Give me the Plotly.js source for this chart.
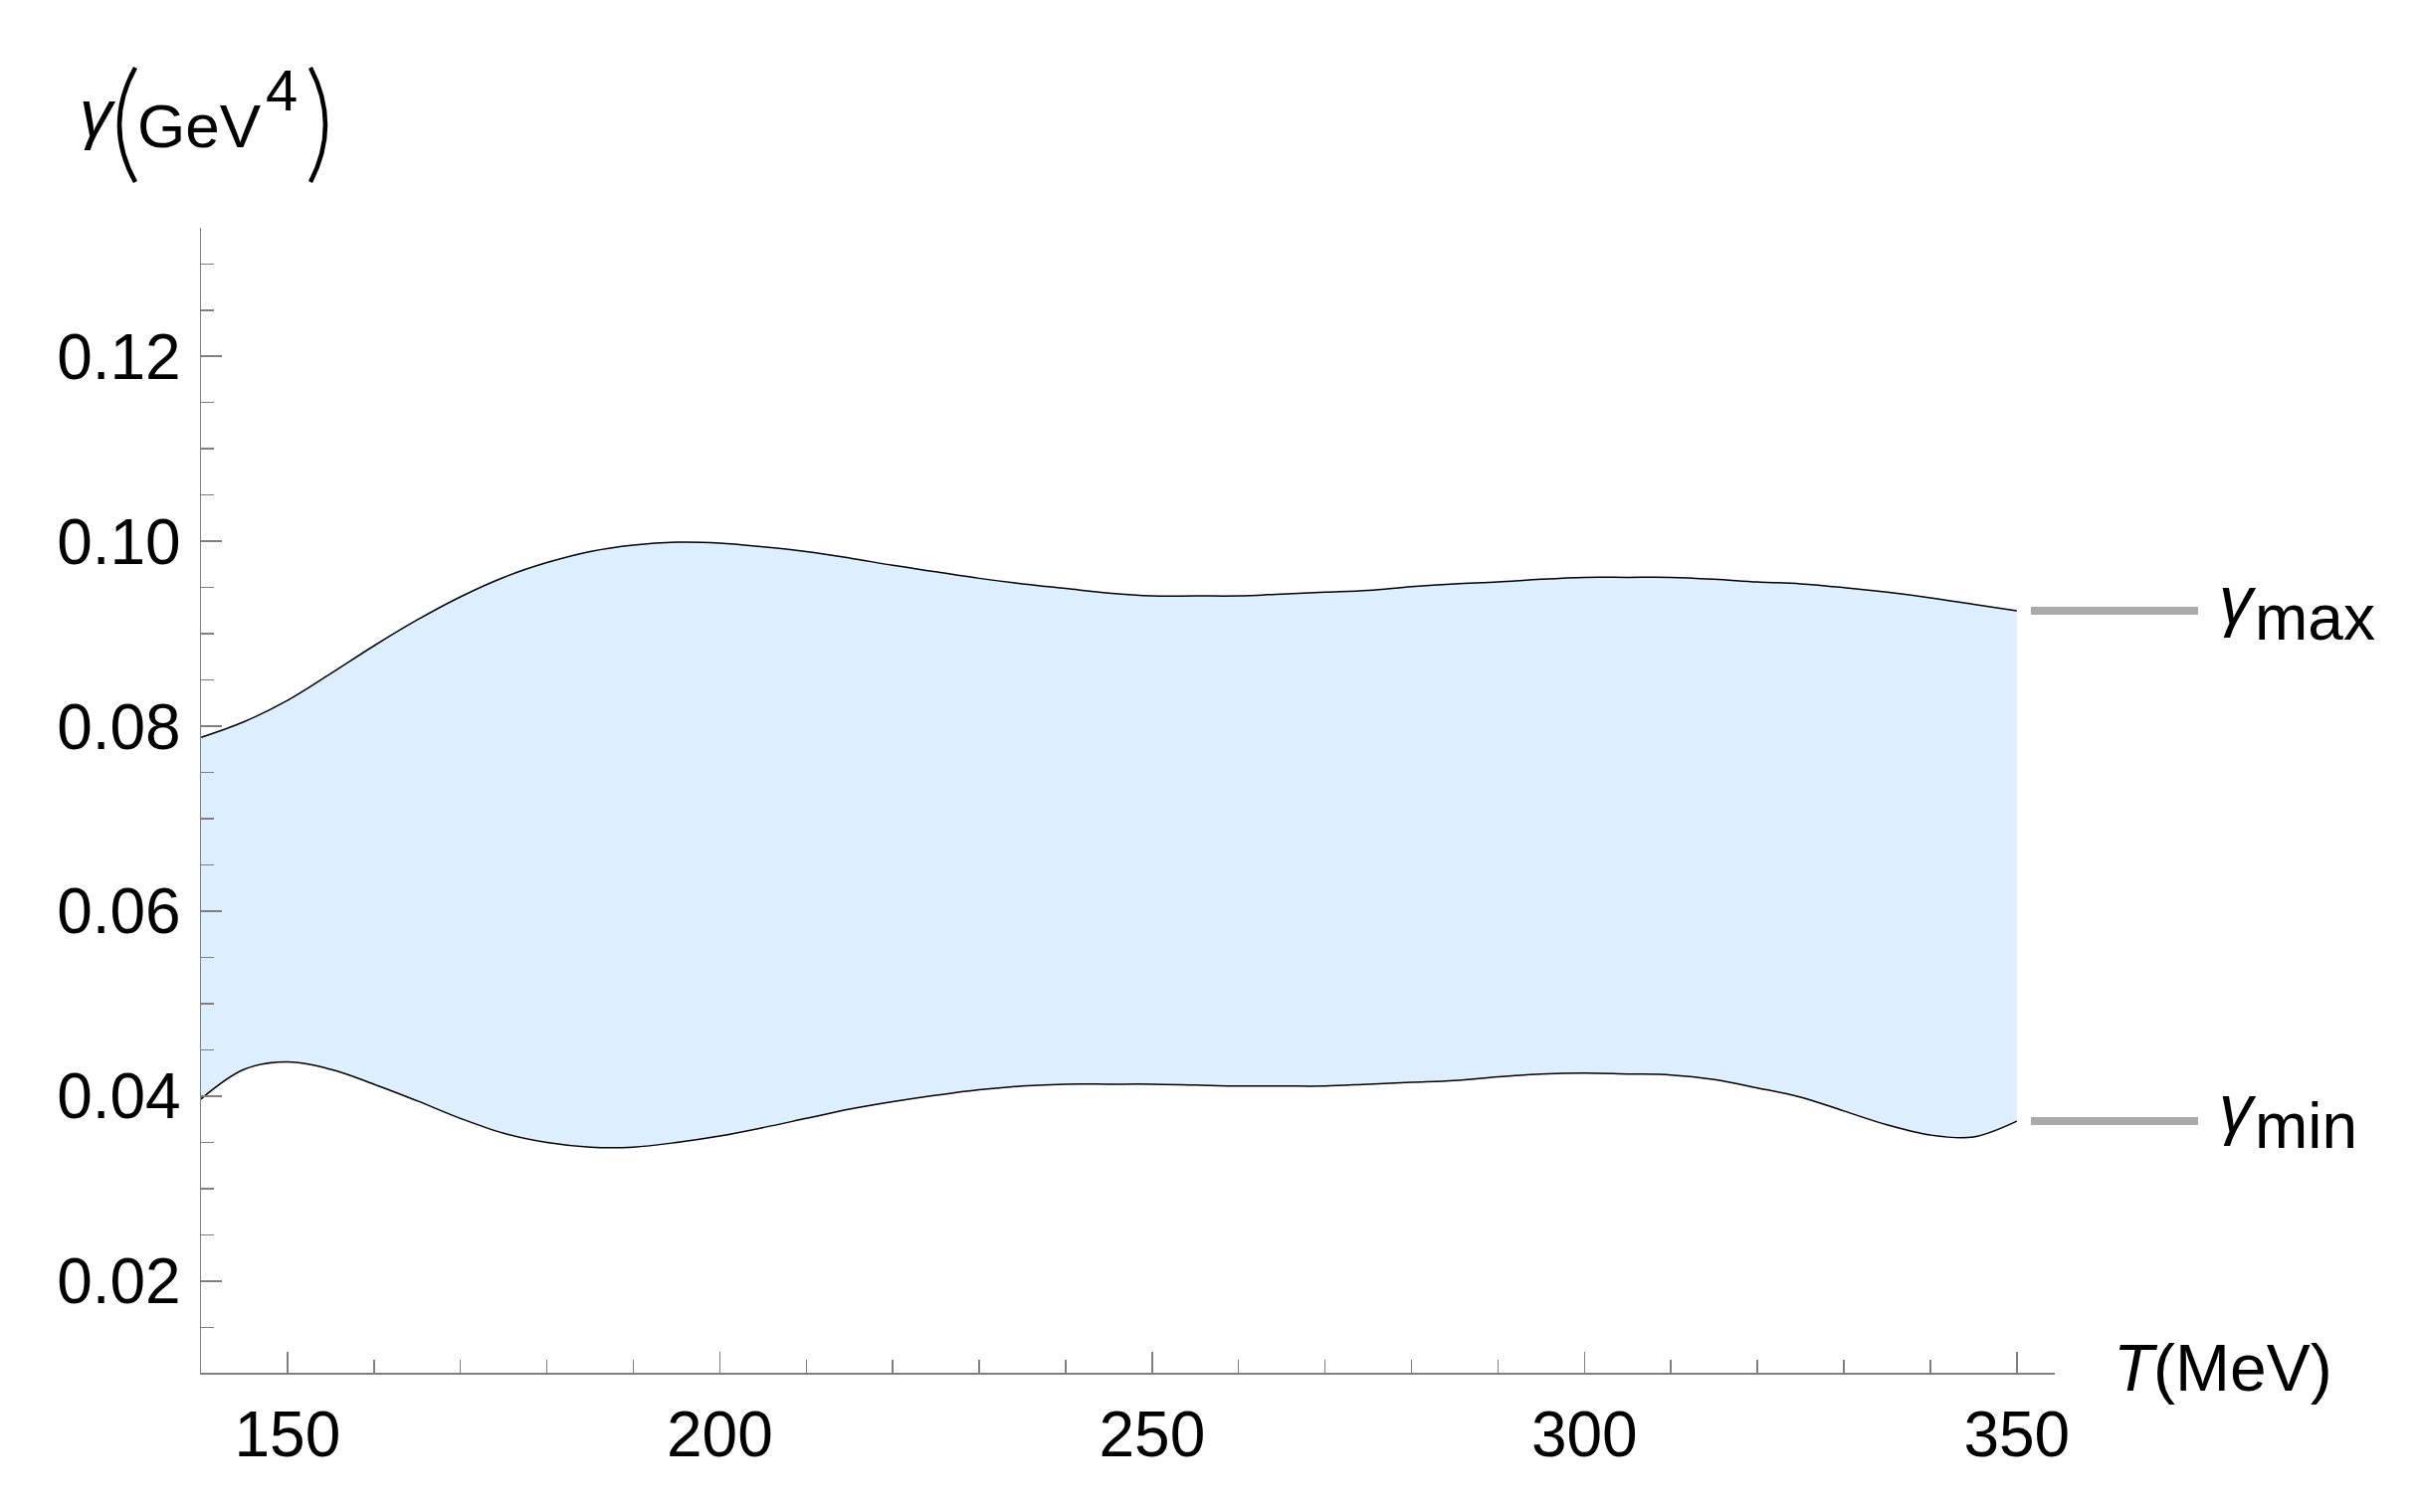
<!DOCTYPE html>
<html>
<head>
<meta charset="utf-8">
<script src="https://cdn.plot.ly/plotly-3.0.1.min.js"></script>
<style>
  html, body { margin: 0; padding: 0; background: #fff; }
  #chart { width: 2431px; height: 1520px; }
</style>
</head>
<body>
<div id="chart"></div>
<script>
// ------------------------------
// values
// ------------------------------
var temperature = [140, 145, 150, 155, 160, 165, 170, 175, 180, 185, 190, 195, 200,
  205, 210, 215, 220, 225, 230, 235, 240, 245, 250, 255, 260, 265, 270, 275, 280,
  285, 290, 295, 300, 305, 310, 315, 320, 325, 330, 335, 340, 345, 350];

var gammaMin = [0.0397, 0.0429, 0.0437, 0.0429, 0.0413, 0.0395, 0.0376, 0.0360, 0.0350,
  0.0345, 0.0345, 0.0350, 0.0357, 0.0366, 0.0376, 0.0386, 0.0394, 0.0401, 0.0407,
  0.0411, 0.0413, 0.0413, 0.0413, 0.0412, 0.0411, 0.0411, 0.0411, 0.0413, 0.0415,
  0.0417, 0.0421, 0.0424, 0.0425, 0.0424, 0.0423, 0.0418, 0.0409, 0.0399, 0.0384,
  0.0369, 0.0358, 0.0356, 0.0373];

var gammaMax = [0.0788, 0.0805, 0.0828, 0.0857, 0.0887, 0.0915, 0.0940, 0.0961, 0.0977,
  0.0989, 0.0996, 0.0999, 0.0998, 0.0994, 0.0989, 0.0982, 0.0974, 0.0967, 0.0960,
  0.0954, 0.0949, 0.0944, 0.0941, 0.0941, 0.0941, 0.0943, 0.0945, 0.0947, 0.0951,
  0.0954, 0.0956, 0.0959, 0.0961, 0.0961, 0.0961, 0.0959, 0.0956, 0.0954, 0.0950,
  0.0945, 0.0939, 0.0932, 0.0925];

var seriesNames = ['min', 'max'];

// ------------------------------
// page geometry (pixels)
// ------------------------------
var W = 2431, H = 1520;
var plotL = 202, plotR = 2065, plotT = 229, plotB = 1380;
var FONT = 'Liberation Sans, Arial, sans-serif';
var AXIS = '#7f7f7f';

function px(x) { return (x - plotL) / (plotR - plotL); }
function py(y) { return (plotB - y) / (plotB - plotT); }

var lower = {
  x: temperature,
  y: gammaMin,
  name: seriesNames[0],
  mode: 'lines',
  line: { color: '#000', width: 1.5, shape: 'spline', smoothing: 1 },
  hoverinfo: 'skip'
};

var upper = {
  x: temperature,
  y: gammaMax,
  name: seriesNames[1],
  mode: 'lines',
  fill: 'tonexty',
  fillcolor: '#ddeeff',
  line: { color: '#000', width: 1.5, shape: 'spline', smoothing: 1 },
  hoverinfo: 'skip'
};

// leader lines next to the band ends
var lastMin = gammaMin[gammaMin.length - 1];
var lastMax = gammaMax[gammaMax.length - 1];

function leader(yv) {
  return {
    type: 'line', xref: 'paper', yref: 'y',
    x0: px(2041), x1: px(2209), y0: yv, y1: yv,
    line: { color: '#aaaaaa', width: 8 }
  };
}

// tall parentheses of the y title
function paren(xEnd, xMid) {
  var c = (4 * xMid - 2 * xEnd) / 2;
  return {
    type: 'path', xref: 'paper', yref: 'paper',
    path: 'M ' + px(xEnd) + ',' + py(68) + ' Q ' + px(c) + ',' + py(125.5) +
      ' ' + px(xEnd) + ',' + py(183),
    line: { color: '#000', width: 4.5 }
  };
}

function label(text, x, yMid, size, italic) {
  return {
    xref: 'paper', yref: 'paper', x: px(x), y: py(yMid),
    xanchor: 'left', yanchor: 'middle', showarrow: false,
    text: italic ? '<i>' + text + '</i>' : text,
    font: { family: FONT, size: size, color: '#000' }
  };
}

var layout = {
  width: W,
  height: H,
  autosize: false,
  paper_bgcolor: '#fff',
  plot_bgcolor: '#fff',
  showlegend: false,
  margin: { l: plotL, r: W - plotR, t: plotT, b: H - plotB, pad: 0 },
  xaxis: {
    range: [140, 354.4],
    tick0: 0, dtick: 50,
    ticks: 'inside', ticklen: 21, tickwidth: 1.5, tickcolor: AXIS,
    showline: true, linecolor: AXIS, linewidth: 1.5,
    showgrid: false, zeroline: false, automargin: false,
    ticklabelstandoff: 6,
    tickfont: { family: FONT, size: 64, color: '#000' },
    minor: { tick0: 0, dtick: 10, ticks: 'inside', ticklen: 13, tickwidth: 1.5, tickcolor: AXIS, showgrid: false }
  },
  yaxis: {
    range: [0.0101, 0.1339],
    tick0: 0, dtick: 0.02, tickformat: '.2f',
    ticks: 'inside', ticklen: 21, tickwidth: 1.5, tickcolor: AXIS,
    showline: true, linecolor: AXIS, linewidth: 1.5,
    showgrid: false, zeroline: false, automargin: false,
    ticklabelstandoff: 6,
    tickfont: { family: FONT, size: 64, color: '#000' },
    minor: { tick0: 0, dtick: 0.005, ticks: 'inside', ticklen: 13, tickwidth: 1.5, tickcolor: AXIS, showgrid: false }
  },
  shapes: [leader(lastMax), leader(lastMin), paren(136, 120), paren(312, 327)],
  annotations: [
    // y title: gamma (GeV^4)
    label('γ', 78, 114, 66, true),
    label('GeV', 136, 127, 62, false),
    label('4', 265, 91, 58, false),
    // x title
    label('T', 2122, 1375, 66, true),
    label('(MeV)', 2162, 1375, 66, false),
    // band labels
    label('γ', 2228, 603, 68, true),
    label(seriesNames[1], 2264, 621, 64, false),
    label('γ', 2228, 1114, 68, true),
    label(seriesNames[0], 2264, 1132, 64, false)
  ]
};

Plotly.newPlot('chart', [lower, upper], layout, { staticPlot: true, displayModeBar: false });
</script>
</body>
</html>
